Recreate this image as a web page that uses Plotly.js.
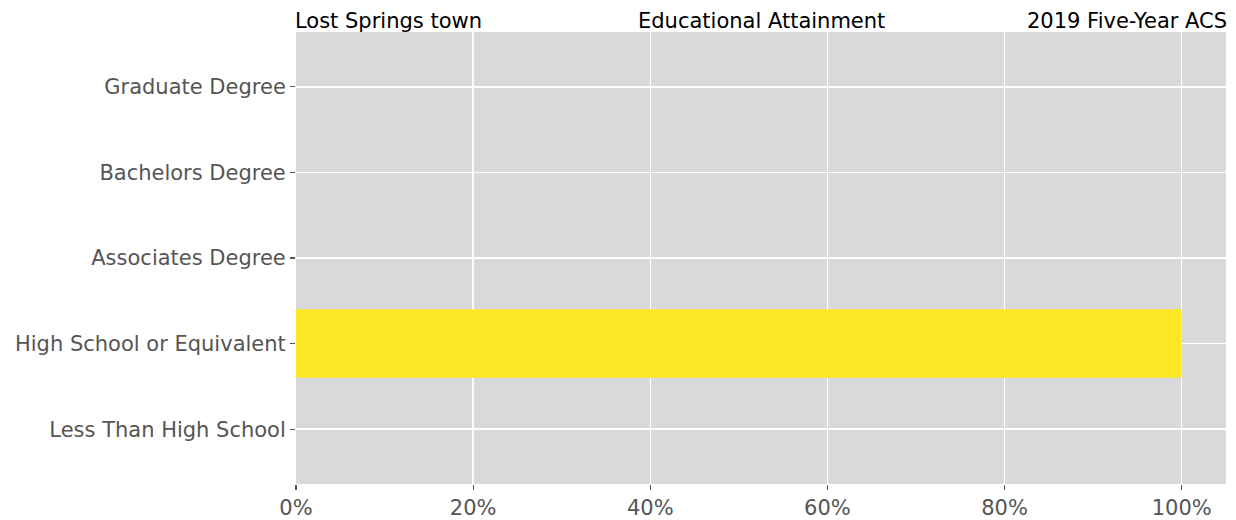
<!DOCTYPE html>
<html>
<head>
<meta charset="utf-8">
<script src="https://cdn.plot.ly/plotly-3.0.1.min.js"></script>
<style>html,body{margin:0;padding:0;background:#fff;}#chart{width:1236px;height:520px;}</style>
</head>
<body>
<div id="chart"></div>
<script>
const categories = ["Less Than High School", "High School or Equivalent", "Associates Degree", "Bachelors Degree", "Graduate Degree"];
const shares = [0, 1.0, 0, 0, 0];
const xTicks = [0, 0.2, 0.4, 0.6, 0.8, 1.0];
const xTickLabels = ["0%", "20%", "40%", "60%", "80%", "100%"];
const titleLeft = "Lost Springs town";
const titleCenter = "Educational Attainment";
const titleRight = "2019 Five-Year ACS";

const font = "DejaVu Sans, sans-serif";
const trace = {
  type: "bar",
  orientation: "h",
  y: categories.map((c, i) => i),
  x: shares,
  width: 0.8,
  marker: {color: "#fde725", line: {width: 0}},
  hoverinfo: "skip"
};
const layout = {
  width: 1236, height: 520,
  margin: {l: 296, r: 10, t: 32, b: 36, pad: 0},
  paper_bgcolor: "#ffffff",
  plot_bgcolor: "#d9d9d9",
  showlegend: false,
  font: {family: font, size: 21, color: "#555555"},
  xaxis: {
    range: [0, 1.05],
    tickvals: xTicks, ticktext: xTickLabels,
    ticks: "outside", ticklen: 5, tickwidth: 1.2, tickcolor: "#555555",
    showgrid: true, gridcolor: "#ffffff", gridwidth: 1.5,
    zeroline: false, showline: false,
    tickfont: {family: font, size: 21, color: "#555555"}
  },
  yaxis: {
    range: [-0.64, 4.64],
    tickvals: categories.map((c, i) => i), ticktext: categories,
    ticks: "outside", ticklen: 5, tickwidth: 1.2, tickcolor: "#555555",
    showgrid: true, gridcolor: "#ffffff", gridwidth: 1.5,
    zeroline: false, showline: false,
    tickfont: {family: font, size: 21, color: "#555555"}
  },
  annotations: [
    {text: titleLeft, xref: "paper", yref: "paper", x: 0, y: 1, xanchor: "left", yanchor: "bottom", showarrow: false, yshift: -3, xshift: -3, font: {family: font, size: 21, color: "#000000"}},
    {text: titleCenter, xref: "paper", yref: "paper", x: 0.5, y: 1, xanchor: "center", yanchor: "bottom", showarrow: false, yshift: -3, font: {family: font, size: 21, color: "#000000"}},
    {text: titleRight, xref: "paper", yref: "paper", x: 1, y: 1, xanchor: "right", yanchor: "bottom", showarrow: false, yshift: -3, xshift: 3, font: {family: font, size: 21, color: "#000000"}}
  ]
};
Plotly.newPlot("chart", [trace], layout, {displayModeBar: false, staticPlot: true});
</script>
</body>
</html>
